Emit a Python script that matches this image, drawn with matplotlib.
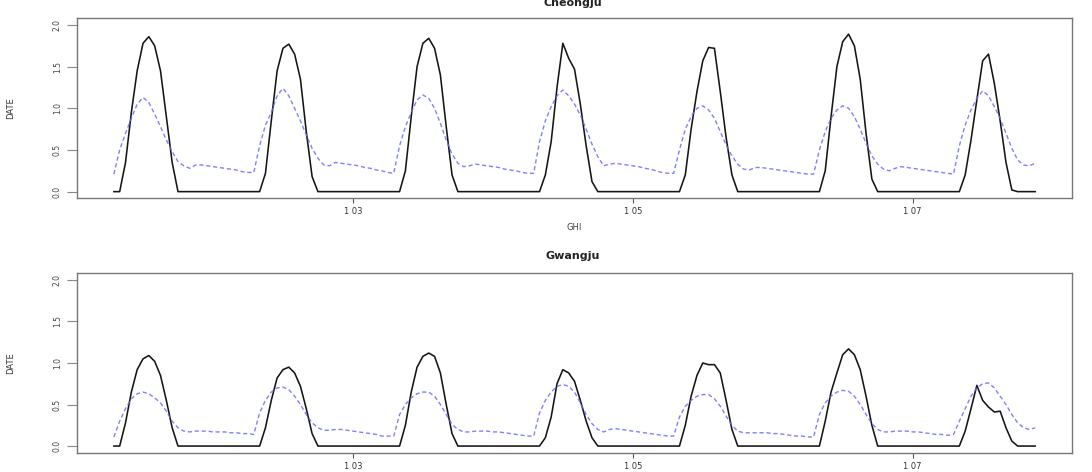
import numpy as np
import matplotlib.pyplot as plt

# hourly index (hours since 1 Jan 00:00), data runs 07h day 1 .. 21h day 7
hours = np.arange(7, 166)

# ---- Cheongju ----
cj_obs = (
    [0, 0, 0.35, 0.95, 1.45, 1.78, 1.86, 1.75, 1.45, 0.90, 0.35, 0] + [0] * 12
    + [0, 0, 0.22, 0.85, 1.45, 1.72, 1.77, 1.65, 1.35, 0.72, 0.18, 0] + [0] * 12
    + [0, 0, 0.25, 0.90, 1.50, 1.78, 1.84, 1.72, 1.40, 0.78, 0.20, 0] + [0] * 12
    + [0, 0, 0.20, 0.60, 1.25, 1.78, 1.60, 1.47, 1.05, 0.55, 0.12, 0] + [0] * 12
    + [0, 0, 0.20, 0.75, 1.20, 1.57, 1.73, 1.72, 1.20, 0.65, 0.20, 0] + [0] * 12
    + [0, 0, 0.25, 0.90, 1.50, 1.80, 1.89, 1.75, 1.35, 0.70, 0.15, 0] + [0] * 12
    + [0, 0, 0.20, 0.62, 1.10, 1.57, 1.65, 1.30, 0.85, 0.35, 0.02, 0, 0, 0, 0]
)
cj_pred = (
    [0.21, 0.50, 0.70, 0.88, 1.05, 1.13, 1.07, 0.93, 0.78, 0.62, 0.48, 0.36,
     0.31, 0.28, 0.32, 0.32, 0.31, 0.30, 0.29, 0.28, 0.27, 0.26, 0.24, 0.23]
    + [0.23, 0.55, 0.80, 0.95, 1.15, 1.24, 1.15, 1.00, 0.85, 0.68, 0.52, 0.40,
       0.32, 0.31, 0.35, 0.34, 0.33, 0.32, 0.31, 0.29, 0.28, 0.26, 0.25, 0.23]
    + [0.22, 0.55, 0.78, 0.95, 1.10, 1.16, 1.12, 1.00, 0.82, 0.62, 0.45, 0.34,
       0.30, 0.31, 0.33, 0.32, 0.31, 0.30, 0.29, 0.27, 0.26, 0.25, 0.23, 0.22]
    + [0.22, 0.60, 0.85, 1.02, 1.15, 1.22, 1.15, 1.05, 0.92, 0.75, 0.57, 0.42,
       0.31, 0.33, 0.34, 0.33, 0.32, 0.31, 0.30, 0.28, 0.27, 0.25, 0.23, 0.22]
    + [0.22, 0.50, 0.75, 0.90, 1.00, 1.03, 0.98, 0.88, 0.72, 0.56, 0.43, 0.33,
       0.27, 0.26, 0.29, 0.29, 0.28, 0.27, 0.26, 0.25, 0.24, 0.23, 0.22, 0.21]
    + [0.21, 0.50, 0.72, 0.88, 0.98, 1.03, 1.00, 0.90, 0.75, 0.58, 0.43, 0.33,
       0.27, 0.25, 0.28, 0.30, 0.29, 0.28, 0.27, 0.26, 0.25, 0.24, 0.23, 0.22]
    + [0.21, 0.55, 0.80, 0.98, 1.12, 1.21, 1.15, 1.02, 0.88, 0.70, 0.52, 0.38,
       0.32, 0.31, 0.34]
)

# ---- Gwangju ----
gj_obs = (
    [0, 0, 0.28, 0.65, 0.92, 1.05, 1.09, 1.02, 0.85, 0.55, 0.22, 0] + [0] * 12
    + [0, 0, 0.22, 0.55, 0.82, 0.92, 0.95, 0.88, 0.72, 0.45, 0.15, 0] + [0] * 12
    + [0, 0, 0.25, 0.65, 0.95, 1.08, 1.12, 1.08, 0.88, 0.50, 0.15, 0] + [0] * 12
    + [0, 0, 0.10, 0.35, 0.75, 0.92, 0.88, 0.78, 0.55, 0.30, 0.10, 0] + [0] * 12
    + [0, 0, 0.25, 0.60, 0.85, 1.00, 0.98, 0.98, 0.88, 0.55, 0.20, 0] + [0] * 12
    + [0, 0, 0.30, 0.65, 0.88, 1.10, 1.17, 1.10, 0.92, 0.60, 0.25, 0] + [0] * 12
    + [0, 0, 0.18, 0.45, 0.73, 0.55, 0.47, 0.41, 0.42, 0.22, 0.06, 0, 0, 0, 0]
)
gj_pred = (
    [0.11, 0.30, 0.45, 0.57, 0.63, 0.65, 0.63, 0.58, 0.52, 0.42, 0.30, 0.22,
     0.18, 0.17, 0.18, 0.18, 0.18, 0.17, 0.17, 0.17, 0.16, 0.16, 0.15, 0.15]
    + [0.14, 0.40, 0.55, 0.65, 0.70, 0.71, 0.68, 0.60, 0.50, 0.38, 0.28, 0.22,
       0.19, 0.19, 0.20, 0.20, 0.19, 0.18, 0.17, 0.16, 0.15, 0.14, 0.12, 0.12]
    + [0.12, 0.38, 0.50, 0.58, 0.63, 0.65, 0.65, 0.60, 0.50, 0.38, 0.26, 0.20,
       0.17, 0.17, 0.18, 0.18, 0.18, 0.17, 0.17, 0.16, 0.15, 0.14, 0.13, 0.12]
    + [0.12, 0.40, 0.55, 0.65, 0.72, 0.74, 0.72, 0.65, 0.52, 0.38, 0.27, 0.20,
       0.17, 0.20, 0.21, 0.20, 0.19, 0.18, 0.17, 0.16, 0.15, 0.14, 0.13, 0.12]
    + [0.12, 0.35, 0.48, 0.55, 0.60, 0.62, 0.62, 0.57, 0.48, 0.36, 0.25, 0.18,
       0.16, 0.16, 0.16, 0.16, 0.16, 0.15, 0.15, 0.14, 0.13, 0.12, 0.12, 0.11]
    + [0.11, 0.38, 0.52, 0.60, 0.65, 0.67, 0.66, 0.60, 0.50, 0.38, 0.27, 0.20,
       0.17, 0.17, 0.18, 0.18, 0.18, 0.17, 0.17, 0.16, 0.15, 0.14, 0.14, 0.13]
    + [0.14, 0.30, 0.45, 0.60, 0.70, 0.75, 0.76, 0.70, 0.60, 0.50, 0.38, 0.28,
       0.22, 0.20, 0.22]
)

stations = ['Cheongju', 'Gwangju']
tick_pos = [48, 96, 144]
tick_lab = ['1 03', '1 05', '1 07']
yticks = [0.0, 0.5, 1.0, 1.5, 2.0]

fig = plt.figure(figsize=(10.92, 4.72), dpi=100)
W, H = 1092, 472

def make_axes(top, bottom):
    return fig.add_axes([77 / W, 1 - bottom / H, (1072 - 77) / W, (bottom - top) / H])

ax1 = make_axes(18.3, 198.3)
ax2 = make_axes(273.3, 452.7)

grey = '#555555'
for ax, obs, pred in [(ax1, cj_obs, cj_pred), (ax2, gj_obs, gj_pred)]:
    ax.plot(hours, obs, color='#151515', lw=1.15)
    ax.plot(hours, pred, color='#6a6aff', lw=1.0, ls=(0, (3, 2)), alpha=0.85)
    span = hours[-1] - hours[0]
    ax.set_xlim(hours[0] - 0.04 * span, hours[-1] + 0.04 * span)
    ax.set_ylim(-0.08, 2.08)
    ax.set_xticks(tick_pos)
    ax.set_xticklabels(tick_lab, fontsize=6, color='#333333')
    ax.set_yticks(yticks)
    ax.set_yticklabels(['%.1f' % v for v in yticks], fontsize=5.5, color='#444444',
                       rotation=90, va='center')
    ax.tick_params(axis='x', length=3.5, width=0.8, color=grey, pad=3)
    ax.tick_params(axis='y', length=7, width=0.8, color='#888888', pad=4)
    for s in ax.spines.values():
        s.set_color('#777777')
        s.set_linewidth(1.0)
    ax.set_ylabel('DATE', fontsize=6, color='#333333')
    ax.yaxis.set_label_coords(-0.062, 0.5)

ax1.set_xlabel('GHI', fontsize=6, color='#444444', labelpad=5)

fig.text(573 / W, 1 - 6 / H, stations[0], ha='center', va='baseline',
         fontsize=8, fontweight='bold', color='#222222')
fig.text(573 / W, 1 - 259 / H, stations[1], ha='center', va='baseline',
         fontsize=8, fontweight='bold', color='#222222')

fig.savefig('out.png', dpi=100)
